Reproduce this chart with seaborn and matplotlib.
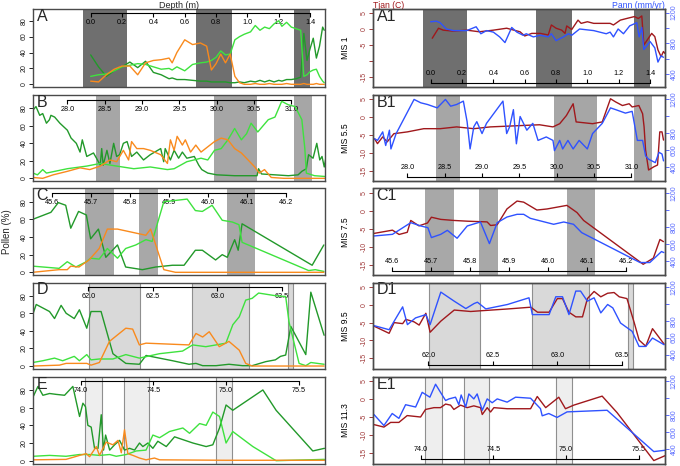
import pandas as pd
import seaborn as sns
import matplotlib.pyplot as plt

# ==========================================================
# COLOURS
# ==========================================================

DARK_GREEN = "#22992a"
LIGHT_GREEN = "#3ee23e"
ORANGE = "#f98a1d"
TJAN_RED = "#a0181c"
PANN_BLUE = "#2f52ff"
PALETTE = {"dark": DARK_GREEN, "light": LIGHT_GREEN, "orange": ORANGE}

POLLEN_TICKS = [0, 20, 40, 60, 80]
RED_TICKS = [-15, -10, -5, 0, 5]
BLUE_TICKS = [400, 600, 800, 1000, 1200]

# ==========================================================
# ROW A  (MIS 1)
# ==========================================================

TICKS_A = [0.0, 0.2, 0.4, 0.6, 0.8, 1.0, 1.2, 1.4]
SPANS_A = [(-0.05, 0.234), (0.673, 0.90), (1.30, 1.40)]

depth_A = [0.0, 0.05, 0.10, 0.15, 0.20, 0.25, 0.30, 0.35, 0.40, 0.45, 0.50, 0.52, 0.55, 0.60, 0.65,
           0.70, 0.74, 0.77, 0.80, 0.83, 0.86, 0.89, 0.92, 0.95, 0.98, 1.02, 1.05, 1.08, 1.11, 1.14,
           1.17, 1.20, 1.22, 1.25, 1.28, 1.31, 1.34, 1.36, 1.38, 1.40, 1.42, 1.44, 1.46, 1.48, 1.49]
dg_A = [37, 22, 10, 17, 22, 28, 21, 29, 15, 12, 7, 8, 6, 6, 5, 4, 4, 3, 3, 3, 3, 2, 2, 3, 2,
        4, 3, 5, 3, 5, 3, 5, 4, 6, 6, 7, 9, 64, 30, 45, 58, 33, 48, 72, 68]
lg_A = [10, 12, 13, 17, 22, 24, 26, 25, 22, 19, 20, 18, 22, 17, 25, 27, 28, 30, 34, 42, 37, 38, 56, 60, 63,
        66, 74, 68, 72, 70, 76, 80, 73, 78, 72, 70, 68, 10, 12, 16, 18, 19, 10, 4, 2]
or_A = [4, 3, 12, 19, 23, 23, 12, 27, 30, 31, 33, 27, 40, 56, 50, 52, 48, 18, 26, 38, 27, 38, 10, 2, 0,
        0, 1, 0, 0, 1, 0, 0, 0, 1, 0, 0, 0, 1, 0, 0, 0, 1, 0, 0, 0]

dT_A1 = [0.01, 0.05, 0.08, 0.145, 0.23, 0.31, 0.40, 0.485, 0.57, 0.60, 0.645, 0.70, 0.75, 0.77, 0.80,
         0.836, 0.857, 0.868, 0.90, 0.94, 0.96, 1.00, 1.04, 1.145, 1.166, 1.21, 1.25, 1.30, 1.325, 1.347,
         1.36, 1.41, 1.43, 1.45, 1.47, 1.485, 1.495]
tjan_A1 = [-2.9, 0.2, -0.4, -0.7, -0.4, -0.9, -0.4, 0.2, -0.9, -2.2, -1.4, -1.4, -1.9, 1.2, 0.2,
           -0.4, -1.4, 0.9, -0.2, 2.7, 1.7, 2.2, 1.7, 1.7, 1.2, 2.7, 3.2, 3.8, 3.2, 4.0,
           -5.0, -1.4, -2.4, -6.5, -8.6, -7.0, -7.6]
dP_A1 = [0.0, 0.036, 0.06, 0.10, 0.145, 0.23, 0.29, 0.32, 0.357, 0.40, 0.44, 0.474, 0.517, 0.55, 0.59,
         0.61, 0.655, 0.70, 0.75, 0.77, 0.80, 0.847, 0.879, 0.90, 0.95, 1.04, 1.12, 1.145, 1.166, 1.196,
         1.23, 1.27, 1.315, 1.33, 1.347, 1.36, 1.40, 1.43, 1.45, 1.47, 1.485]
pann_A1 = [1081, 1089, 1069, 987, 966, 966, 1016, 925, 966, 946, 884, 810, 1007, 946, 905,
           925, 884, 905, 884, 925, 835, 884, 925, 905, 987, 966, 925, 946, 884, 987,
           925, 1028, 1069, 884, 1007, 720, 823, 741, 556, 638, 618]

# ==========================================================
# ROW B  (MIS 5.5)
# ==========================================================

TICKS_B = [28.0, 28.5, 29.0, 29.5, 30.0, 30.5, 31.0]
SPANS_B = [(28.39, 28.70), (29.97, 30.54), (31.03, 31.28)]

dDG_B = [27.54, 27.58, 27.63, 27.67, 27.72, 27.76, 27.78, 27.83, 27.90, 28.00, 28.05, 28.12, 28.17, 28.20,
         28.26, 28.35, 28.39, 28.44, 28.46, 28.48, 28.53, 28.57, 28.62, 28.66, 28.70, 28.75, 28.80, 28.86,
         28.93, 29.02, 29.11, 29.25, 29.29, 29.31, 29.38, 29.43, 29.49, 29.54, 29.60, 29.70, 29.76, 29.80,
         29.88, 30.00, 30.24, 30.46, 30.54, 30.56, 30.60, 30.78, 30.96, 31.09, 31.14, 31.20, 31.23, 31.29,
         31.34, 31.38, 31.41, 31.44, 31.47]
dg_B = [78, 82, 72, 74, 63, 67, 72, 70, 63, 55, 46, 40, 30, 44, 25, 29, 23, 15, 34, 15, 32, 17, 40, 25,
        27, 40, 42, 25, 30, 21, 27, 34, 19, 34, 21, 32, 23, 30, 23, 25, 15, 10, 6, 4, 3, 3, 3, 11, 5, 4,
        3, 4, 8, 11, 27, 23, 40, 21, 25, 13, 27]
dLG_B = [27.54, 27.60, 27.67, 27.72, 28.00, 28.26, 28.44, 28.66, 28.89, 29.11, 29.34, 29.43, 29.60, 29.79,
         29.88, 29.97, 30.06, 30.15, 30.24, 30.33, 30.40, 30.46, 30.55, 30.69, 30.78, 30.87, 30.96, 31.05,
         31.14, 31.18, 31.20, 31.31, 31.47]
lg_B = [6, 4, 10, 6, 11, 14, 17, 14, 11, 13, 10, 11, 19, 23, 21, 32, 34, 44, 57, 44, 51, 63, 53, 67, 70,
        88, 84, 82, 67, 34, 6, 3, 2]
dOR_B = [27.54, 27.67, 27.81, 28.00, 28.17, 28.30, 28.44, 28.57, 28.66, 28.75, 28.82, 28.86, 28.93, 29.02,
         29.11, 29.25, 29.34, 29.38, 29.43, 29.47, 29.54, 29.58, 29.65, 29.72, 29.79, 29.88, 29.97, 30.06,
         30.15, 30.24, 30.33, 30.42, 30.51, 30.57, 30.64, 30.73, 30.90, 31.47]
or_B = [1, 0, 4, 8, 12, 10, 14, 21, 19, 32, 21, 42, 34, 34, 32, 27, 17, 44, 32, 48, 38, 44, 30, 38, 30,
        36, 42, 46, 44, 34, 29, 21, 13, 6, 10, 1, 0, 0]

dT_B1 = [27.56, 27.60, 27.67, 27.73, 27.82, 28.00, 28.22, 28.44, 28.66, 28.89, 29.11, 29.33, 29.55, 29.77,
         29.95, 30.04, 30.13, 30.22, 30.26, 30.48, 30.61, 30.72, 30.79, 30.88, 30.97, 31.01, 31.10, 31.15,
         31.17, 31.19, 31.23, 31.30, 31.35, 31.38, 31.41, 31.43]
tjan_B1 = [-6.0, -7.4, -5.5, -6.9, -4.6, -4.1, -3.2, -3.2, -2.7, -3.2, -2.7, -2.5, -2.3, -2.1, -2.7,
           -1.8, 0.5, 3.8, -1.3, -1.8, -1.3, 5.2, 4.3, 3.3, 3.8, 2.9, 3.3, 1.0, -2.7, -9.2,
           -14.8, -13.9, -13.4, -4.1, -4.1, -6.4]
dP_B1 = [27.56, 27.60, 27.67, 27.71, 27.76, 27.78, 27.85, 28.09, 28.18, 28.27, 28.40, 28.51, 28.58, 28.66,
         28.75, 28.80, 28.84, 28.89, 28.93, 29.00, 29.06, 29.28, 29.33, 29.37, 29.42, 29.46, 29.51, 29.60,
         29.68, 29.75, 29.86, 29.95, 29.97, 30.04, 30.08, 30.15, 30.22, 30.30, 30.41, 30.48, 30.61, 30.72,
         30.79, 30.92, 31.01, 31.08, 31.15, 31.19, 31.23, 31.32, 31.37, 31.41, 31.43]
pann_B1 = [735, 715, 816, 655, 836, 614, 796, 1200, 1160, 1140, 1100, 1200, 1120, 1140, 1180, 937, 614,
           877, 937, 796, 917, 1180, 796, 877, 1079, 675, 998, 836, 917, 715, 756, 715, 594, 715, 614,
           715, 614, 715, 614, 796, 917, 1100, 1079, 1038, 1059, 715, 715, 533, 493, 452, 574, 554, 473]

# ==========================================================
# ROW C  (MIS 7.5)
# ==========================================================

TICKS_C = [45.6, 45.7, 45.8, 45.9, 46.0, 46.1, 46.2]
SPANS_C = [(45.683, 45.758), (45.823, 45.870), (46.048, 46.120)]

dDG_C = [45.549, 45.596, 45.615, 45.634, 45.647, 45.667, 45.687, 45.698, 45.718, 45.737, 45.767, 45.788,
         45.831, 45.865, 45.908, 45.938, 45.967, 45.985, 46.019, 46.036, 46.049, 46.068, 46.077, 46.087,
         46.267, 46.297]
dg_C = [60, 68, 79, 76, 50, 69, 65, 38, 49, 17, 31, 6, 3, 6, 8, 8, 25, 25, 14, 20, 17, 37, 25, 55, 8, 31]
dLG_C = [45.549, 45.617, 45.638, 45.660, 45.687, 45.698, 45.720, 45.741, 45.767, 45.788, 45.814, 45.840,
         45.856, 45.886, 45.946, 45.967, 45.985, 46.010, 46.036, 46.062, 46.079, 46.087, 46.258, 46.275,
         46.297]
lg_C = [7, 4.5, 12, 6, 12, 16, 15, 27, 16, 27, 31, 37, 35, 80, 83, 70, 69, 76, 59, 57, 54, 34, 2, 3, 1]
dOR_C = [45.549, 45.617, 45.638, 45.647, 45.668, 45.694, 45.720, 45.741, 45.767, 45.840, 45.852, 45.886,
         45.916, 46.100, 46.297]
or_C = [0, 3, 3, 7, 6, 14, 27, 49, 49, 42, 49, 3, 0, 0, 0]

dT_C1 = [45.553, 45.600, 45.617, 45.638, 45.647, 45.668, 45.690, 45.700, 45.724, 45.758, 45.792, 45.843,
         45.852, 45.869, 45.894, 45.920, 45.937, 45.971, 45.997, 46.048, 46.074, 46.091, 46.244, 46.270,
         46.287, 46.296]
tjan_C1 = [-6.3, -5.4, -6.6, -6.0, -2.7, -4.2, -3.4, -1.8, -2.4, -2.7, -2.9, -3.1, -4.1, -3.9, 0.5,
           2.7, 2.4, 0.2, 0.5, 1.5, -0.5, -2.7, -14.9, -13.2, -8.0, -8.6]
dP_C1 = [45.553, 45.600, 45.647, 45.673, 45.691, 45.700, 45.724, 45.741, 45.766, 45.792, 45.826, 45.849,
         45.869, 45.894, 45.920, 45.937, 45.954, 46.014, 46.040, 46.065, 46.086, 46.236, 46.261, 46.291,
         46.297]
pann_C1 = [693, 712, 849, 810, 790, 674, 712, 759, 666, 810, 857, 603, 849, 915, 947, 947, 900, 830,
           857, 830, 732, 381, 381, 510, 498]

# ==========================================================
# ROW D  (MIS 9.5)
# ==========================================================

TICKS_D = [62.0, 62.5, 63.0, 63.5]
SPANS_D = [(62.002, 62.40), (62.80, 63.247), (63.547, 63.59)]

dDG_D = [61.569, 61.595, 61.698, 61.737, 61.788, 61.827, 61.890, 61.930, 61.987, 62.020, 62.098, 62.190,
         62.290, 62.395, 62.447, 62.550, 62.653, 62.780, 62.834, 62.886, 62.990, 63.090, 63.195, 63.270,
         63.376, 63.450, 63.490, 63.530, 63.570, 63.686, 63.725, 63.828]
dg_D = [59, 70, 62, 54, 69, 60, 54, 64, 43, 62, 62, 14, 3, 2, 12, 9, 6, 2, 3, 0.4, 0.4, 2, 0.4, 0.4,
        5, 7, 11, 12.5, 45, 13, 84, 35]
dLG_D = [61.569, 61.646, 61.737, 61.800, 61.890, 61.930, 61.987, 62.020, 62.085, 62.190, 62.290, 62.395,
         62.550, 62.730, 62.808, 62.910, 62.990, 63.066, 63.120, 63.170, 63.220, 63.270, 63.320, 63.450,
         63.530, 63.556, 63.634, 63.686, 63.725, 63.828]
lg_D = [4, 6, 9, 6, 11, 6, 13, 7, 8, 8, 13, 9, 14, 17, 24, 22, 24, 26, 47, 56, 75, 77, 83, 80, 79,
        50, 3, 0.4, 4, 2]
dOR_D = [61.569, 61.775, 61.827, 61.987, 62.020, 62.085, 62.163, 62.290, 62.343, 62.395, 62.447, 62.780,
         62.834, 62.886, 62.937, 63.015, 63.090, 63.170, 63.220, 63.270, 63.828]
or_D = [0, 1, 3, 3, 1, 4, 28, 43, 42, 24, 26, 24, 37, 33, 39, 22, 28, 18, 3, 0, 0]

dT_D1 = [61.578, 61.695, 61.734, 61.800, 61.824, 61.889, 61.928, 61.980, 62.013, 62.096, 62.200, 62.328,
         62.406, 62.613, 62.794, 62.846, 62.936, 63.000, 63.040, 63.090, 63.143, 63.195, 63.233, 63.285,
         63.337, 63.390, 63.440, 63.480, 63.540, 63.596, 63.634, 63.686, 63.738, 63.828]
tjan_D1 = [-6.0, -8.0, -5.0, -5.3, -4.1, -4.8, -5.7, -2.4, -7.7, -4.6, -1.5, -1.9, -1.7, -1.2, -0.7,
           -2.1, -2.1, 1.7, 1.7, -2.1, -3.4, -3.4, 1.7, 3.7, 2.2, 3.2, 3.4, 2.2, 1.7, -5.0,
           -9.9, -11.6, -6.7, -11.0]
dP_D1 = [61.578, 61.695, 61.800, 61.837, 61.900, 61.980, 62.013, 62.096, 62.200, 62.290, 62.354, 62.380,
         62.445, 62.613, 62.780, 62.806, 62.936, 62.988, 63.040, 63.090, 63.143, 63.180, 63.233, 63.285,
         63.337, 63.390, 63.430, 63.490, 63.580, 63.634, 63.686, 63.738, 63.828]
pann_D1 = [742, 694, 963, 754, 833, 872, 754, 1137, 1030, 943, 1002, 1018, 939, 991, 1070, 872, 872,
           1082, 1082, 872, 1149, 1149, 1030, 1070, 892, 991, 951, 773, 675, 497, 497, 596, 517]

# ==========================================================
# ROW E  (MIS 11.3)
# ==========================================================

TICKS_E = [74.0, 74.5, 75.0, 75.5]
SPANS_E = [(74.032, 74.146), (74.297, 74.469), (74.932, 75.039)]

dDG_E = [73.673, 73.707, 73.741, 73.787, 73.833, 73.890, 73.947, 73.993, 74.016, 74.034, 74.050, 74.073,
         74.096, 74.120, 74.142, 74.158, 74.172, 74.200, 74.234, 74.268, 74.302, 74.337, 74.371, 74.405,
         74.428, 74.463, 74.497, 74.531, 74.589, 74.646, 74.772, 74.863, 74.909, 74.955, 75.000, 75.046,
         75.253, 75.344, 75.596, 75.676]
dg_E = [72, 84, 74, 76, 75, 74, 84, 50, 65, 61, 40, 38, 14, 14, 52, 12, 29, 12, 18, 23, 12, 14, 12, 20,
        16, 20, 14, 22, 16, 27, 20, 16, 18, 37, 63, 57, 80, 57, 11, 14]
dLG_E = [73.673, 73.787, 73.900, 73.993, 74.062, 74.130, 74.200, 74.245, 74.314, 74.382, 74.450, 74.497,
         74.543, 74.611, 74.703, 74.749, 74.818, 74.863, 74.909, 74.955, 75.000, 75.046, 75.184, 75.344,
         75.676]
lg_E = [5, 6, 5, 7, 7, 6, 7, 5, 7, 11, 12, 29, 26, 33, 37, 31, 42, 40, 55, 50, 20, 33, 16, 0, 1.5]
dOR_E = [73.673, 73.900, 73.993, 74.039, 74.062, 74.108, 74.130, 74.176, 74.222, 74.257, 74.280, 74.302,
         74.325, 74.360, 74.405, 74.450, 74.508, 74.543, 75.000, 75.676]
or_E = [1, 1.5, 6, 8, 4.5, 16, 6, 21, 18, 23, 9, 35, 8, 6, 3, 1, 3, 1, 0.5, 0.5]

dT_E1 = [73.679, 73.748, 73.794, 73.851, 73.908, 74.000, 74.034, 74.092, 74.137, 74.172, 74.206, 74.229,
         74.275, 74.320, 74.366, 74.412, 74.424, 74.458, 74.481, 74.504, 74.595, 74.756, 74.802, 74.860,
         74.950, 74.996, 75.053, 75.248, 75.351, 75.603, 75.683]
tjan_E1 = [-7.1, -7.8, -6.5, -6.5, -4.6, -5.0, -2.9, -2.4, -2.4, -1.4, -1.7, -2.9, -1.7, -2.4, -1.9,
           -2.4, -4.3, -2.4, -3.6, -2.4, -2.7, -2.7, 0.7, -2.4, 0.5, -2.7, -1.7, 0.8, -3.8, -17.1, -15.7]
dP_E1 = [73.679, 73.748, 73.805, 73.851, 73.897, 73.966, 74.011, 74.064, 74.103, 74.137, 74.172, 74.195,
         74.240, 74.263, 74.279, 74.310, 74.332, 74.366, 74.389, 74.424, 74.458, 74.492, 74.527, 74.595,
         74.653, 74.756, 74.824, 74.836, 74.881, 74.938, 75.007, 75.282, 75.603, 75.683]
pann_E1 = [808, 678, 819, 762, 922, 895, 1067, 1010, 1162, 1067, 971, 990, 1010, 922, 1036, 895, 1048,
           990, 1048, 857, 990, 945, 990, 952, 1010, 998, 876, 792, 819, 773, 838, 857, 373, 389]

# ==========================================================
# LAYOUT
# ==========================================================

ROWS = [
    dict(tag="A", mis="MIS 1", xlim=(-0.368, 1.495), ticks=TICKS_A, spans=SPANS_A,
         face="#6f6f6f", edge="none", top=8.8, bottom=87.1,
         pollen=[("dark", depth_A, dg_A), ("light", depth_A, lg_A), ("orange", depth_A, or_A)],
         tjan=(dT_A1, tjan_A1), pann=(dP_A1, pann_A1),
         red_labels=["-15", "", "-5", "0", "5"], blue_labels=["400", "", "800", "", "1200"]),
    dict(tag="B", mis="MIS 5.5", xlim=(27.54, 31.45), ticks=TICKS_B, spans=SPANS_B,
         face="#a6a6a6", edge="none", top=95.2, bottom=181.4,
         pollen=[("dark", dDG_B, dg_B), ("light", dLG_B, lg_B), ("orange", dOR_B, or_B)],
         tjan=(dT_B1, tjan_B1), pann=(dP_B1, pann_B1),
         red_labels=["-15", "-10", "-5", "0", "5"], blue_labels=["400", "600", "800", "", "1200"]),
    dict(tag="C", mis="MIS 7.5", xlim=(45.55, 46.30), ticks=TICKS_C, spans=SPANS_C,
         face="#a8a8a8", edge="none", top=188.5, bottom=275.4,
         pollen=[("dark", dDG_C, dg_C), ("light", dLG_C, lg_C), ("orange", dOR_C, or_C)],
         tjan=(dT_C1, tjan_C1), pann=(dP_C1, pann_C1),
         red_labels=["-15", "-10", "-5", "0", "5"], blue_labels=["400", "600", "800", "", "1200"]),
    dict(tag="D", mis="MIS 9.5", xlim=(61.57, 63.835), ticks=TICKS_D, spans=SPANS_D,
         face="#d9d9d9", edge="#8f8f8f", top=282.5, bottom=369.1,
         pollen=[("dark", dDG_D, dg_D), ("light", dLG_D, lg_D), ("orange", dOR_D, or_D)],
         tjan=(dT_D1, tjan_D1), pann=(dP_D1, pann_D1),
         red_labels=["-15", "-10", "-5", "0", "5"], blue_labels=["400", "600", "800", "", "1200"]),
    dict(tag="E", mis="MIS 11.3", xlim=(73.673, 75.68), ticks=TICKS_E, spans=SPANS_E,
         face="#eeeeee", edge="#8f8f8f", top=376.7, bottom=463.8,
         pollen=[("dark", dDG_E, dg_E), ("light", dLG_E, lg_E), ("orange", dOR_E, or_E)],
         tjan=(dT_E1, tjan_E1), pann=(dP_E1, pann_E1),
         red_labels=["-15", "-10", "-5", "0", "5"], blue_labels=["400", "600", "800", "", "1200"]),
]

W, H = 680, 466
LEFT_X, RIGHT_X, AX_W = 33, 373, 292


# ==========================================================
# HELPERS
# ==========================================================

def frame(ax):
    for s in ax.spines.values():
        s.set_visible(True)
        s.set_color("#4a4a4a")
        s.set_linewidth(1.0)


def shade(ax, spans, face, edge):
    for lo, hi in spans:
        ax.axvspan(lo, hi, facecolor=face, edgecolor=edge, linewidth=0.8, zorder=0)


def depth_axis(ax, ticks, loc, side):
    sec = ax.secondary_xaxis(loc)
    sec.set_alignment(side)
    sec.set_ticks(ticks, labels=[f"{t:.1f}" for t in ticks])
    sec.spines[side].set_bounds(ticks[0], ticks[-1])
    sec.spines[side].set_color("black")
    sec.spines[side].set_linewidth(0.8)
    sec.tick_params(direction="out", length=3, width=0.8, pad=1.5, labelsize=5.2,
                    colors="black")
    return sec


def yticks(ax, ticks, labels, color):
    ax.set_yticks(ticks)
    ax.set_yticklabels(labels)
    ax.tick_params(axis="y", length=3, width=0.7, pad=1, labelsize=5, colors=color,
                   labelrotation=90)
    for lab in ax.get_yticklabels():
        lab.set_va("center")


def pollen_frame(series):
    parts = [pd.DataFrame({"depth": d, "pct": v, "taxon": name}) for name, d, v in series]
    return pd.concat(parts, ignore_index=True)


# ==========================================================
# FIGURE
# ==========================================================

sns.set_theme(style="ticks")
plt.rcParams["font.family"] = ["Liberation Sans", "DejaVu Sans"]

fig = plt.figure(figsize=(W / 100, H / 100), dpi=100)

for i, row in enumerate(ROWS):
    y0 = 1 - row["bottom"] / H
    hh = (row["bottom"] - row["top"]) / H

    # ── pollen panel ──────────────────────────────────────────────────────────
    ax = fig.add_axes([LEFT_X / W, y0, AX_W / W, hh])
    shade(ax, row["spans"], row["face"], row["edge"])
    sns.lineplot(data=pollen_frame(row["pollen"]), x="depth", y="pct", hue="taxon",
                 palette=PALETTE, estimator=None, sort=False, legend=False,
                 linewidth=1.0, ax=ax)
    ax.set_xlim(*row["xlim"])
    ax.set_ylim(-3.5, 95)
    ax.set_xticks([])
    ax.set_xlabel("")
    yticks(ax, POLLEN_TICKS, [str(t) for t in POLLEN_TICKS], "#222222")
    ax.set_ylabel("Pollen (%)" if row["tag"] == "C" else "", fontsize=7)
    ax.yaxis.set_label_coords(-0.072, 0.5)
    frame(ax)
    depth_axis(ax, row["ticks"], 0.95, "bottom")
    ax.text(0.012, 1.0, row["tag"], transform=ax.transAxes, fontsize=11.5,
            ha="left", va="top")
    if i == 0:
        ax.text(0.5, 1.045, "Depth (m)", transform=ax.transAxes, fontsize=6.5,
                ha="center", va="center")

    # ── climate panel ─────────────────────────────────────────────────────────
    ax = fig.add_axes([RIGHT_X / W, y0, AX_W / W, hh])
    shade(ax, row["spans"], row["face"], row["edge"])
    sns.lineplot(x=row["tjan"][0], y=row["tjan"][1], color=TJAN_RED, estimator=None,
                 sort=False, linewidth=1.0, ax=ax)
    ax.set_xlim(*row["xlim"])
    ax.set_ylim(-18, 6.2)
    ax.set_xticks([])
    yticks(ax, RED_TICKS, row["red_labels"], "#a03a3a")
    ax.set_ylabel(row["mis"], fontsize=6.2, color="black")
    ax.yaxis.set_label_coords(-0.079, 0.5)

    tw = ax.twinx()
    sns.lineplot(x=row["pann"][0], y=row["pann"][1], color=PANN_BLUE, estimator=None,
                 sort=False, linewidth=1.0, ax=tw)
    tw.set_ylim(230, 1250)
    yticks(tw, BLUE_TICKS, row["blue_labels"], "#5a6cff")
    tw.set_ylabel("")
    frame(ax)
    frame(tw)
    depth_axis(ax, row["ticks"], 0.05, "top")
    ax.text(0.012, 1.0, row["tag"] + "1", transform=ax.transAxes, fontsize=11.5,
            ha="left", va="top")
    if i == 0:
        ax.text(0.0, 1.045, "Tjan (C)", transform=ax.transAxes, fontsize=6.2,
                color=TJAN_RED, ha="left", va="center")
        ax.text(1.0, 1.045, "Pann (mm/yr)", transform=ax.transAxes, fontsize=6.2,
                color=PANN_BLUE, ha="right", va="center")

fig.savefig("out.png", dpi=100, facecolor="white")
